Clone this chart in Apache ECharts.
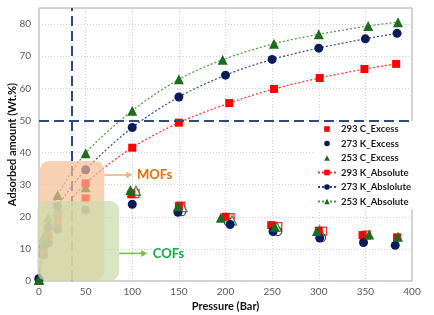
<!DOCTYPE html>
<html><head><meta charset="utf-8">
<script src="https://cdn.jsdelivr.net/npm/echarts@6/dist/echarts.min.js"></script>
<style>html,body{margin:0;padding:0;background:#fff}#c{width:434px;height:315px}</style>
</head><body><div id="c"></div>
<script>
// Axis ticks
const xTicks = [0, 50, 100, 150, 200, 250, 300, 350, 400];
const yTicks = [0, 10, 20, 30, 40, 50, 60, 70, 80];

// Excess (filled markers, no line) [pressure, wt%]
const ex293 = [[0,0.2],[5,8.5],[10,12.5],[20,17.0],[50,25.7],[99,27.0],[150,23.3],[200,20.0],[249,17.4],[300,15.6],[347,14.3],[384,13.6]];
const ex273 = [[0,0.5],[5,8.2],[10,11.9],[20,16.1],[50,22.1],[100,23.9],[149,21.4],[205,17.6],[251,15.4],[301,13.4],[348,12.0],[382,11.1]];
const ex253 = [[0,0.3],[5,12.0],[10,17.4],[20,22.5],[50,29.2],[98,28.3],[149,23.3],[195,19.7],[253,16.9],[298,15.6],[354,14.5],[385,13.8]];

// Absolute (markers with dotted smooth line)
const ab293 = [[0,0.3],[5,9.9],[10,14.2],[20,19.5],[50,30.4],[100,41.5],[150,49.3],[204,55.4],[252,59.8],[301,63.2],[349,66.0],[383,67.6]];
const ab273 = [[0,0.8],[5,11.0],[10,16.7],[20,23.3],[50,34.6],[100,47.8],[150,57.3],[200,64.1],[250,69.0],[300,72.5],[350,75.4],[384,77.1]];
const ab253 = [[0,0.5],[5,13.8],[10,19.8],[20,26.8],[50,39.8],[100,53.0],[150,62.8],[197,68.9],[252,73.9],[300,76.8],[353,79.4],[385,80.6]];

// Hollow markers (unlabelled)
const ho293 = [[103,27.2],[152,23.3],[205,19.7],[256,16.9],[304,15.5],[351,14.3]];
const ho273 = [[153,21.6],[203,18.4],[256,15.4],[303,13.5]];
const ho253 = [[104,28.1],[154,23.0],[207,18.9],[255,16.9],[301,15.7]];

// Reference lines
const refX = 35, refY = 50;

// Highlighted regions (data units)
const mofBox = {x0: 1, x1: 70, y0: 0.2, y1: 37.4};
const cofBox = {x0: -1.8, x1: 86, y0: 0, y1: 24.9};

const RED = '#ff0000', NAVY = '#0b1b58', GREEN = '#1d6b1d';
const FONT = 'Lato';

const chart = echarts.init(document.getElementById('c'), null, {renderer: 'canvas'});

function excess(name, data, sym, color, size) {
  return {name, type: 'line', data, symbol: sym, symbolSize: size, showAllSymbol: true,
    itemStyle: {color}, lineStyle: {width: 0, opacity: 0}, z: 3};
}
function absLine(name, data, sym, color, lineColor, size) {
  return {name, type: 'line', data, symbol: sym, symbolSize: size, smooth: 0.3,
    showAllSymbol: true,
    itemStyle: {color}, lineStyle: {color: lineColor, width: 1.2, type: [2, 2]}, z: 4};
}
function hollow(data, sym, color, size) {
  return {type: 'scatter', data, symbol: sym, symbolSize: size,
    itemStyle: {color: '#fff', borderColor: color, borderWidth: 1.3}, z: 2};
}

const series = [
  excess('293 C_Excess', ex293, 'rect', RED, 8),
  excess('273 K_Excess', ex273, 'circle', NAVY, 9),
  excess('253 C_Excess', ex253, 'triangle', GREEN, 10),
  absLine('293 K_Absolute', ab293, 'rect', RED, '#ff3030', 8),
  absLine('273 K_Abslolute', ab273, 'circle', NAVY, '#2c4a86', 9),
  absLine('253 K_Absolute', ab253, 'triangle', GREEN, '#4e9a3e', 10),
  hollow(ho293, 'rect', RED, 8),
  hollow(ho273, 'circle', NAVY, 8),
  hollow(ho253, 'triangle', GREEN, 9)
];
series[0].markLine = {
  silent: true, symbol: 'none', animation: false,
  label: {show: false},
  lineStyle: {color: '#2e4a7e', width: 2, type: [10, 5], opacity: 1},
  data: [{xAxis: refX}, {yAxis: refY}]
};

chart.setOption({
  animation: false,
  textStyle: {fontFamily: FONT},
  grid: {left: 39, right: 22, top: 8, bottom: 34, containLabel: false, outerBoundsMode: 'none',
    show: true, borderColor: '#a6a6a6', borderWidth: 1, backgroundColor: '#fff'},
  xAxis: {
    type: 'value', min: xTicks[0], max: xTicks[xTicks.length - 1], interval: 50,
    name: 'Pressure (Bar)', nameLocation: 'middle', nameGap: 20, nameMoveOverlap: false,
    nameTextStyle: {fontFamily: FONT, fontWeight: 'bold', fontSize: 11, color: '#111'},
    axisLine: {show: false}, axisTick: {show: false},
    axisLabel: {color: '#595959', fontSize: 10, margin: 6, fontFamily: FONT},
    splitLine: {show: true, lineStyle: {color: '#d0d0d0', type: [1, 2]}}
  },
  yAxis: {
    type: 'value', min: 0, max: 85, interval: 10,
    name: 'Adsorbed amount (Wt.%)', nameLocation: 'middle', nameGap: 21, nameMoveOverlap: false,
    nameTextStyle: {fontFamily: FONT, fontWeight: 'bold', fontSize: 11, color: '#111'},
    axisLine: {show: false}, axisTick: {show: false},
    axisLabel: {color: '#595959', fontSize: 10, margin: 8, fontFamily: FONT,
      formatter: v => (yTicks.indexOf(v) >= 0 ? String(v) : '')},
    splitLine: {show: true, lineStyle: {color: '#d0d0d0', type: [1, 2]}}
  },
  legend: {
    orient: 'vertical', left: 314, top: 121,
    backgroundColor: '#ffffff', padding: [2, 3, 2, 3],
    itemWidth: 18, itemHeight: 7, itemGap: 2.5,
    textStyle: {fontFamily: FONT, fontWeight: 'bold', fontSize: 9.5, color: '#1a1a1a', lineHeight: 12},
    data: ['293 C_Excess', '273 K_Excess', '253 C_Excess', '293 K_Absolute', '273 K_Abslolute', '253 K_Absolute']
  },
  series
});

function px(x, y) { return chart.convertToPixel({gridIndex: 0}, [x, y]); }
function box(b, fill) {
  const p0 = px(b.x0, b.y1), p1 = px(b.x1, b.y0);
  return {type: 'rect', shape: {x: p0[0], y: p0[1], width: p1[0] - p0[0], height: p1[1] - p0[1], r: 9},
    style: {fill}, z: 100, silent: true};
}
function arrow(x0, x1, y, color) {
  const a = px(x0, y), b = px(x1, y);
  return [
    {type: 'line', shape: {x1: a[0], y1: a[1], x2: b[0] - 4, y2: b[1]}, style: {stroke: color, lineWidth: 1.6}, z: 101, silent: true},
    {type: 'polygon', shape: {points: [[b[0], b[1]], [b[0] - 6, b[1] - 3.5], [b[0] - 6, b[1] + 3.5]]}, style: {fill: color}, z: 101, silent: true}
  ];
}
function label(x, y, text, color) {
  const p = px(x, y);
  return {type: 'text', x: p[0], y: p[1], style: {text, fill: color, font: 'bold 13px ' + FONT, textVerticalAlign: 'middle', textAlign: 'left'}, z: 101, silent: true};
}
chart.setOption({graphic: [
  box(mofBox, 'rgba(246,190,148,0.7)'),
  box(cofBox, 'rgba(204,221,172,0.72)'),
  ...arrow(70, 100, 33, '#f4b183'),
  label(105, 33, 'MOFs', '#e46c0a'),
  ...arrow(86, 116, 8.6, '#7cc242'),
  label(122, 8.4, 'COFs', '#1aa84a')
]});
</script></body></html>
